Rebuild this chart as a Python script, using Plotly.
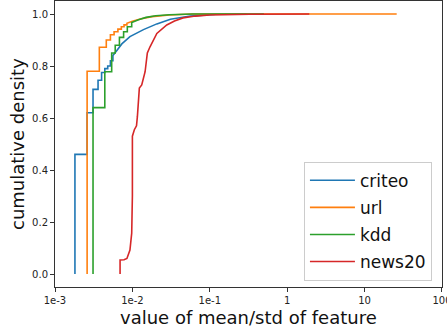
import plotly.graph_objects as go

# ---- data (x = mean/std value, y = cumulative density) ----
criteo_x = [0.00181, 0.00181, 0.0026, 0.0026, 0.0031, 0.0031, 0.0036, 0.0036, 0.0040, 0.0040,
            0.0044, 0.0044, 0.0048, 0.0048, 0.0052, 0.0052, 0.0056, 0.0056, 0.0063, 0.0073,
            0.0093, 0.0139, 0.0207, 0.031, 0.056, 0.12, 0.3]
criteo_y = [0.0, 0.46, 0.46, 0.62, 0.62, 0.71, 0.71, 0.745, 0.745, 0.775,
            0.775, 0.79, 0.79, 0.80, 0.80, 0.82, 0.82, 0.84, 0.86, 0.885,
            0.913, 0.94, 0.962, 0.98, 0.992, 0.999, 1.0]

url_x = [0.0026, 0.0026, 0.00374, 0.00374, 0.0046, 0.0046, 0.0052, 0.0052, 0.0058, 0.0058,
         0.0065, 0.0065, 0.0072, 0.0072, 0.0078, 0.0078, 0.0085, 0.0085, 0.010, 0.013,
         0.018, 0.03, 0.06, 26.0]
url_y = [0.0, 0.78, 0.78, 0.872, 0.872, 0.90, 0.90, 0.92, 0.92, 0.932,
         0.932, 0.942, 0.942, 0.951, 0.951, 0.958, 0.958, 0.964, 0.972, 0.982,
         0.99, 0.996, 1.0, 1.0]

kdd_x = [0.0031, 0.0031, 0.0044, 0.0044, 0.0054, 0.0054, 0.0060, 0.0060, 0.0068, 0.0068,
         0.0077, 0.0077, 0.0086, 0.0086, 0.0098, 0.0098, 0.012, 0.015, 0.02, 0.03,
         0.06, 0.5]
kdd_y = [0.0, 0.64, 0.64, 0.778, 0.778, 0.85, 0.85, 0.88, 0.88, 0.91,
         0.91, 0.932, 0.932, 0.951, 0.951, 0.967, 0.978, 0.987, 0.993, 0.997,
         1.0, 1.0]

news20_x = [0.00693, 0.00693, 0.0078, 0.0085, 0.0093, 0.0098, 0.0100, 0.0100, 0.0106, 0.0113,
            0.0116, 0.0123, 0.0132, 0.0146, 0.0156, 0.0169, 0.0207, 0.0245, 0.0278, 0.035,
            0.045, 0.065, 0.1, 0.33, 0.6, 1.93]
news20_y = [0.0, 0.054, 0.055, 0.06, 0.092, 0.157, 0.30, 0.53, 0.555, 0.57,
            0.605, 0.715, 0.727, 0.778, 0.85, 0.874, 0.925, 0.945, 0.958, 0.973,
            0.985, 0.992, 0.996, 0.999, 1.0, 1.0]

series = [
    ("criteo", criteo_x, criteo_y, "#1f77b4"),
    ("url", url_x, url_y, "#ff7f0e"),
    ("kdd", kdd_x, kdd_y, "#2ca02c"),
    ("news20", news20_x, news20_y, "#d62728"),
]

x_tickvals = [0.001, 0.01, 0.1, 1, 10, 100]
x_ticktext = ["1e-3", "1e-2", "1e-1", "1", "10", "100"]
y_tickvals = [0.0, 0.2, 0.4, 0.6, 0.8, 1.0]

FONT = "DejaVu Sans"

fig = go.Figure()
for name, xs, ys, color in series:
    fig.add_trace(go.Scatter(
        x=xs, y=ys, mode="lines", name=name, legendgroup=name,
        line=dict(color=color, width=1.6),
    ))

axis_common = dict(
    showgrid=False, zeroline=False, showline=True, linecolor="#333", linewidth=1,
    mirror=True, ticks="outside", ticklen=4, tickcolor="#333", tickwidth=1,
    tickfont=dict(family=FONT, size=10, color="#222"), automargin=False,
)

fig.update_layout(
    width=447, height=331,
    margin=dict(l=55, r=5, t=1, b=44),
    paper_bgcolor="white", plot_bgcolor="white",
    font=dict(family=FONT),
    xaxis=dict(type="log", range=[-3, 2.0004], tickvals=x_tickvals, ticktext=x_ticktext,
               ticklabeloverflow="allow", **axis_common),
    yaxis=dict(range=[-0.05, 1.05], tickvals=y_tickvals, tickformat=".1f",
               **axis_common),
    legend=dict(
        x=0.974, y=0.022, xanchor="right", yanchor="bottom",
        bgcolor="rgba(255,255,255,0.8)", bordercolor="#cccccc", borderwidth=1,
        font=dict(family=FONT, size=17, color="#111"),
        tracegroupgap=2, itemwidth=45, entrywidth=82, entrywidthmode="pixels",
    ),
    showlegend=True,
)

fig.add_annotation(text="value of mean/std of feature", xref="paper", yref="paper",
                   x=0.5, y=0, yshift=-30, xanchor="center", yanchor="middle",
                   showarrow=False, font=dict(family=FONT, size=18, color="#111"))
fig.add_annotation(text="cumulative density", xref="paper", yref="paper",
                   x=0, y=0.5, xshift=-38, textangle=-90, xanchor="center", yanchor="middle",
                   showarrow=False, font=dict(family=FONT, size=18, color="#111"))

fig.write_html("out.html")
